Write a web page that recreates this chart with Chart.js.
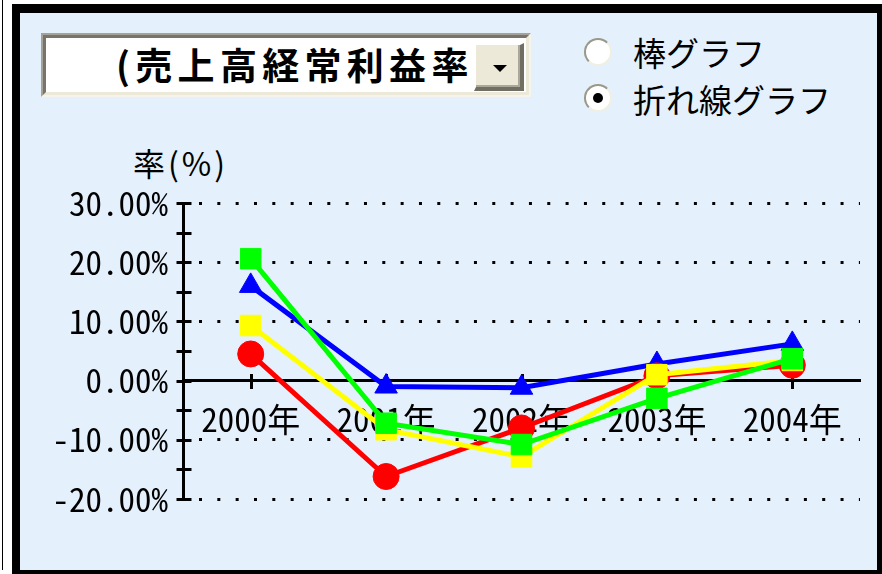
<!DOCTYPE html>
<html><head><meta charset="utf-8">
<script src="https://cdn.jsdelivr.net/npm/chart.js@4/dist/chart.umd.min.js"></script>
<style>
html,body{margin:0;padding:0;background:#fff;width:882px;height:574px;overflow:hidden;position:relative;}
#vline{position:absolute;left:2px;top:0;width:1px;height:570px;background:#000;}
#panel{position:absolute;left:12px;top:4px;width:857px;height:557px;background:#E4F0FC;border-style:solid;border-color:#000;border-width:9px 5px 4px 8px;}
#combo{position:absolute;left:41px;top:33px;width:486px;height:60px;background:#fff;border-style:solid;border-width:2px;border-color:#A5A397 #F4F3EC #F4F3EC #A5A397;}
#comboIn{position:absolute;left:0;top:0;right:0;bottom:0;border-style:solid;border-width:3px;border-color:#77756B #ECE9D8 #ECE9D8 #77756B;}
#comboText{position:absolute;left:116px;top:46px;font:bold 37px "Noto Sans CJK JP",sans-serif;letter-spacing:5.3px;line-height:37px;color:#000;white-space:nowrap;}
#btn{position:absolute;left:474px;top:43px;width:44px;height:42px;background:#ECE9D8;border-style:solid;border-width:2px 4px 4px 2px;border-color:#FFFFFF #716F64 #716F64 #FFFFFF;box-shadow:inset -2px -2px 0 #ACA899;}
#arrow{position:absolute;left:493px;top:65px;width:0;height:0;border-left:7px solid transparent;border-right:7px solid transparent;border-top:7px solid #000;}
.radio{position:absolute;left:584px;width:24px;height:24px;border-radius:50%;background:#fff;border:2px solid;border-color:#9A988A #F1EFE2 #F1EFE2 #9A988A;}
.dot{position:absolute;left:7px;top:7px;width:10px;height:10px;border-radius:50%;background:#000;}
.lbl{position:absolute;font:33px "Noto Sans CJK JP",sans-serif;line-height:33px;color:#000;white-space:nowrap;}
#c{position:absolute;left:0;top:0;}
</style></head>
<body>
<div id="vline"></div>
<div id="panel"></div>
<div id="combo"><div id="comboIn"></div></div>
<div id="comboText">(売上高経常利益率</div>
<div id="btn"></div>
<div id="arrow"></div>
<div class="radio" style="top:38px"></div>
<div class="lbl" style="left:633px;top:36px">棒グラフ</div>
<div class="radio" style="top:84px"><div class="dot"></div></div>
<div class="lbl" style="left:633px;top:83px">折れ線グラフ</div>
<div class="lbl" style="left:133px;top:146px;font-size:32px;letter-spacing:3px">率(%)</div>
<canvas id="c" width="882" height="574"></canvas>
<script>
const categories = ['2000年', '2001年', '2002年', '2003年', '2004年'];
const seriesRed    = [4.5, -16.2, -8.0, 0.8, 2.6];
const seriesYellow = [9.3, -8.3, -12.9, 1.0, 3.4];
const seriesGreen  = [20.6, -7.2, -10.8, -3.0, 3.7];
const seriesBlue   = [16.0, -1.0, -1.2, 2.8, 6.2];
const yMin = -20, yMax = 30, yStep = 10, yMinorStep = 5;

const tickFont = {family: '"Noto Sans Mono CJK JP", "DejaVu Sans Condensed", "Noto Sans CJK JP", sans-serif', size: 33};

const crossTicks = {
  id: 'crossTicks',
  beforeDatasetsDraw(chart) {
    const ctx = chart.ctx, ys = chart.scales.y, xs = chart.scales.x;
    const ax = ys.right + 0.5;
    const y0 = Math.round(ys.getPixelForValue(0));
    ctx.save();
    ctx.strokeStyle = '#000';
    ctx.lineWidth = 3;
    ctx.beginPath();
    for (let v = yMin; v <= yMax; v += yMinorStep) {
      const p = Math.round(ys.getPixelForValue(v)) + 0.5;
      ctx.moveTo(ax - 7, p); ctx.lineTo(ax + 8, p);
    }
    for (let i = 0; i < categories.length; i++) {
      const p = Math.round(xs.getPixelForValue(i)) + 0.5;
      ctx.moveTo(p, y0 - 7); ctx.lineTo(p, y0 + 8);
    }
    ctx.stroke();
    ctx.restore();
  }
};

function ds(label, data, color, style, radius, order) {
  return {label, data, borderColor: color, backgroundColor: color, pointBackgroundColor: color,
    pointBorderColor: color, pointStyle: style, pointRadius: radius, pointBorderWidth: 1,
    borderWidth: 5, tension: 0, order, xAxisID: 'x', yAxisID: 'y'};
}

new Chart(document.getElementById('c'), {
  type: 'line',
  data: {
    labels: categories,
    datasets: [
      ds('系列1', seriesRed, '#FF0000', 'circle', 13, 2),
      ds('系列2', seriesYellow, '#FFFF00', 'rect', 14.5, 1),
      ds('系列3', seriesGreen, '#00FF00', 'rect', 14.5, 0),
      ds('系列4', seriesBlue, '#0000FF', 'triangle', 13, 3)
    ]
  },
  options: {
    responsive: false,
    devicePixelRatio: 1,
    animation: false,
    layout: {padding: {top: 203, bottom: 75, left: 0, right: 22}},
    plugins: {legend: {display: false}, tooltip: {enabled: false}, title: {display: false}},
    scales: {
      x: {
        type: 'category', position: {y: 0}, offset: true,
        grid: {display: false},
        border: {display: true, color: '#000', width: 3},
        ticks: {display: false}
      },
      xl: {
        type: 'category', position: {y: 0}, offset: true, z: 1,
        grid: {display: false, drawTicks: false},
        border: {display: false},
        ticks: {display: true, color: '#000', font: tickFont, padding: 19, maxRotation: 0, autoSkip: false}
      },
      y: {
        type: 'linear', position: 'left', min: yMin, max: yMax,
        afterFit(scale) { scale.width = 183; },
        grid: {color: '#000', lineWidth: 3, drawTicks: false},
        border: {display: true, color: '#000', width: 3, dash: [3, 15.33], dashOffset: 4.33},
        ticks: {stepSize: yStep, color: '#000', font: tickFont, padding: 15,
          callback: (v) => v.toFixed(2) + '%'}
      }
    }
  },
  plugins: [crossTicks]
});
</script>
</body></html>
